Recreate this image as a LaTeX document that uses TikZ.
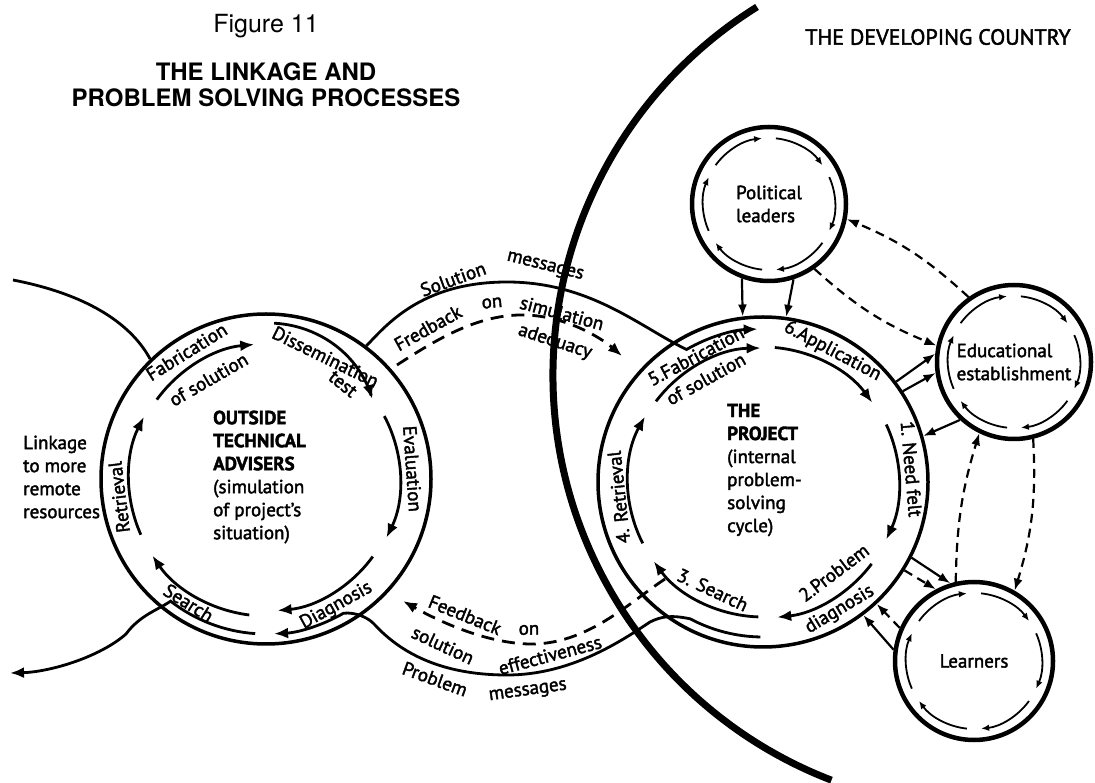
\documentclass[tikz,border=0pt]{standalone}
\usepackage{fontspec}
\setmainfont{PT Sans}[FakeBold=2]
\newfontfamily\headfont{TeX Gyre Heros}
\usetikzlibrary{arrows.meta, calc}

\begin{document}
\begin{tikzpicture}[x=1pt, y=1pt, font=\fontsize{19}{23}\selectfont,
  ring/.style={draw, circle, line width=3.5pt, inner sep=0pt},
  flow/.style={line width=2.8pt, -{Latex[length=14pt,width=11pt]}},
  spin/.style={line width=1.8pt, -{Latex[length=8pt,width=6.5pt]}},
  conn/.style={line width=2.2pt, -{Latex[length=12pt,width=9pt]}},
  dconn/.style={conn, dash pattern=on 9pt off 6pt},
  msgline/.style={flow, dash pattern=on 13pt off 8pt},
  bandline/.style={line width=2.8pt},
  lbl/.style={inner sep=0pt}]
\useasboundingbox (0,0) rectangle (1095,782);

% the two problem-solving cycles
\node[ring, minimum size=330] (adv) at (266,303) {};
\node[ring, minimum size=330] (proj) at (763,300) {};
% the three partners in the country
\node[ring, line width=4.5pt, minimum size=154, align=left] (pol) at (769,578) {Political\\leaders};
\node[ring, line width=4.5pt, minimum size=154, align=left] (edu) at (1014,420) {Educational\\establishment};
\node[ring, line width=4.5pt, minimum size=158] (lrn) at (974,121) {Learners};

% border of the developing country
\coordinate (rim) at (987,407);
\draw[line width=7pt] ($(rim)+(122:434)$) arc[start angle=122, end angle=249, radius=434];

% inner arrows, outside advisers
\draw[flow] ($(adv)+(144:135)$) arc[start angle=144, end angle=95, radius=135];
\begin{scope}[shift={(adv)}]
\draw[flow] plot[domain=87:37, samples=25, smooth] (\x:{156-23*((87-\x)/50)*((87-\x)/50)});
\end{scope}
\draw[flow] ($(adv)+(28:134)$) arc[start angle=28, end angle=-26, radius=134];
\draw[flow] ($(adv)+(-36:132)$) arc[start angle=-36, end angle=-85, radius=132];
\draw[flow] ($(adv)+(-97:137)$) arc[start angle=-97, end angle=-146, radius=137];
\draw[flow] ($(adv)+(204:137)$) arc[start angle=204, end angle=153, radius=137];

% inner arrows, the project
\draw[flow] ($(proj)+(143:134)$) arc[start angle=143, end angle=91, radius=134];
\draw[flow] ($(proj)+(85:135)$) arc[start angle=85, end angle=36, radius=135];
\draw[flow] ($(proj)+(25:136)$) arc[start angle=25, end angle=-25, radius=136];
\draw[flow] ($(proj)+(-37:136)$) arc[start angle=-37, end angle=-84, radius=136];
\draw[flow] ($(proj)+(-92:135)$) arc[start angle=-92, end angle=-144, radius=135];
\draw[flow] ($(proj)+(207:135)$) arc[start angle=207, end angle=151, radius=135];

% small cycles
\foreach \n/\r in {pol/66, edu/66, lrn/68}
  \foreach \c in {180,120,60,0,-60,-120}
    \draw[spin] ($(\n)+({\c+24}:\r)$) arc[start angle=\c+24, end angle=\c-24, radius=\r];

% message bands
\draw[flow] (adv.53) .. controls (385,455) and (420,500) .. (507,500)
  .. controls (590,500) and (640,455) .. ($(proj)+(120:153)$)
  arc[start angle=120, end angle=92, radius=153];
\draw[flow] ($(proj)+(-91:155)$) arc[start angle=-91, end angle=-118, radius=155]
  .. controls (672,167) and (662,166) .. (650,160)
  .. controls (620,140) and (570,107) .. (507,107)
  .. controls (440,107) and (400,130) .. (375,157)
  .. controls (368,165) and (355,170) .. ($(adv)+(-60:155)$)
  arc[start angle=-60, end angle=-87, radius=155];

% linkage to remote resources
\coordinate (farA) at (13,502);
\coordinate (farB) at (10,109);
\draw[bandline] (farA) .. controls (85,488) and (130,460) .. (adv.134);
\draw[flow] ($(adv)+(-94:155)$) arc[start angle=-94, end angle=-128, radius=155]
  .. controls (158,172) and (140,167) .. (126,148)
  .. controls (100,125) and (50,110) .. (farB);

% feedback
\coordinate (fbA) at (397,417);
\coordinate (fbB) at (622,426);
\coordinate (fbC) at (665,203);
\coordinate (fbD) at (403,181);
\draw[msgline] (fbA) .. controls (440,445) and (480,468) .. (525,467)
  .. controls (565,466) and (600,445) .. (fbB);
\draw[msgline] (fbC) .. controls (630,180) and (590,140) .. (535,138)
  .. controls (490,137) and (440,160) .. (fbD);

% links between partners
\draw[conn] (pol.-110) -- (proj.97);
\draw[conn] (pol.-72) -- (proj.82);
\draw[dconn] (edu.125) to[bend right=10] (pol.-11);
\draw[dconn] (pol.-55) to[bend right=10] (edu.168);
\draw[conn] (proj.37) -- (edu.174);
\draw[conn] (proj.33) -- (edu.188);
\draw[conn] (edu.227) -- (proj.16);
\draw[dconn] (lrn.103) to[bend left=8] (edu.244);
\draw[dconn] (edu.-76) to[bend left=10] (lrn.60);
\draw[conn] (proj.-27) -- (lrn.107);
\draw[dconn] (proj.-32) -- (lrn.118);
\draw[dconn] (lrn.156) -- (proj.-47);
\draw[conn] (lrn.172) -- (proj.-53);

% labels, outside advisers
\node[lbl, rotate=32] (lfab) at ($(adv)+(122:150)$) {Fabrication};
\node[lbl, rotate=30] (lsol) at ($(adv)+(120:115)$) {of solution};
\node[lbl, rotate=-26] (ldis) at ($(adv)+(64:136)$) {Dissemination};
\node[lbl, rotate=-39] (ltest) at ($(adv)+(51:122)$) {test};
\node[lbl, rotate=-86] (leva) at ($(adv)+(4:147)$) {Evaluation};
\node[lbl, rotate=29] (ldia) at ($(adv)+(-61:145)$) {Diagnosis};
\node[lbl, rotate=-32] (lsea) at ($(adv)+(-122:146)$) {Search};
\node[lbl, rotate=97] (lret) at ($(adv)+(187:148)$) {Retrieval};

% labels, the project
\node[lbl, rotate=28] (rfab) at ($(proj)+(118:143)$) {5.Fabrication};
\node[lbl, rotate=29] (rsol) at ($(proj)+(119:118)$) {of solution};
\node[lbl, rotate=-28] (rapp) at ($(proj)+(62:148)$) {6.Application};
\node[lbl, rotate=-85] (rneed) at ($(proj)+(5:149)$) {1. Need felt};
\node[lbl, rotate=37] (rprob) at ($(proj)+(-52:115)$) {2.Problem};
\node[lbl, rotate=31] (rdia) at ($(proj)+(-59:149)$) {diagnosis};
\node[lbl, rotate=-25] (rsea) at ($(proj)+(-115:119)$) {3. Search};
\node[lbl, rotate=96] (rret) at ($(proj)+(186:145)$) {4. Retrieval};

% text blocks
\node[lbl, align=left, anchor=west] (advtext) at (213,305)
  {\textbf{OUTSIDE}\\\textbf{TECHNICAL}\\\textbf{ADVISERS}\\(simulation\\of project's\\situation)};
\node[lbl, align=left, anchor=west] (projtext) at (727,312)
  {\textbf{THE}\\\textbf{PROJECT}\\(internal\\problem-\\solving\\cycle)};
\node[lbl, align=left, anchor=west] (linktext) at (23,305) {Linkage\\to more\\remote\\resources};

% band labels
\node[lbl, rotate=20] (solw) at (453,503) {Solution};
\node[lbl, rotate=-14] (msgw) at (545,515) {messages};
\node[lbl, rotate=29] (fbw) at (428,454) {Fredback};
\node[lbl, rotate=5] (onw) at (492,479) {on};
\node[lbl, rotate=-15] (simw) at (562,469) {simulation};
\node[lbl, rotate=-18] (adqw) at (555,440) {adequacy};
\node[lbl, rotate=-22] (fbw2) at (465,167) {Feedback};
\node[lbl] (onw2) at (529,152) {on};
\node[lbl, rotate=-25] (solw2) at (443,137) {solution};
\node[lbl, rotate=15] (effw) at (550,127) {effectiveness};
\node[lbl, rotate=-20] (probw) at (435,103) {Problem};
\node[lbl, rotate=8] (msgw2) at (528,90) {messages};

% titles
\node[lbl, font=\headfont\fontsize{25}{30}\selectfont] (fig) at (266,756) {Figure 11};
\node[lbl, font=\headfont\bfseries\fontsize{24}{26}\selectfont, align=center] (title) at (266,697)
  {THE LINKAGE AND\\PROBLEM SOLVING PROCESSES};
\node[lbl, font=\fontsize{22}{26}\selectfont] (country) at (938,745) {THE DEVELOPING COUNTRY};
\end{tikzpicture}
\end{document}
